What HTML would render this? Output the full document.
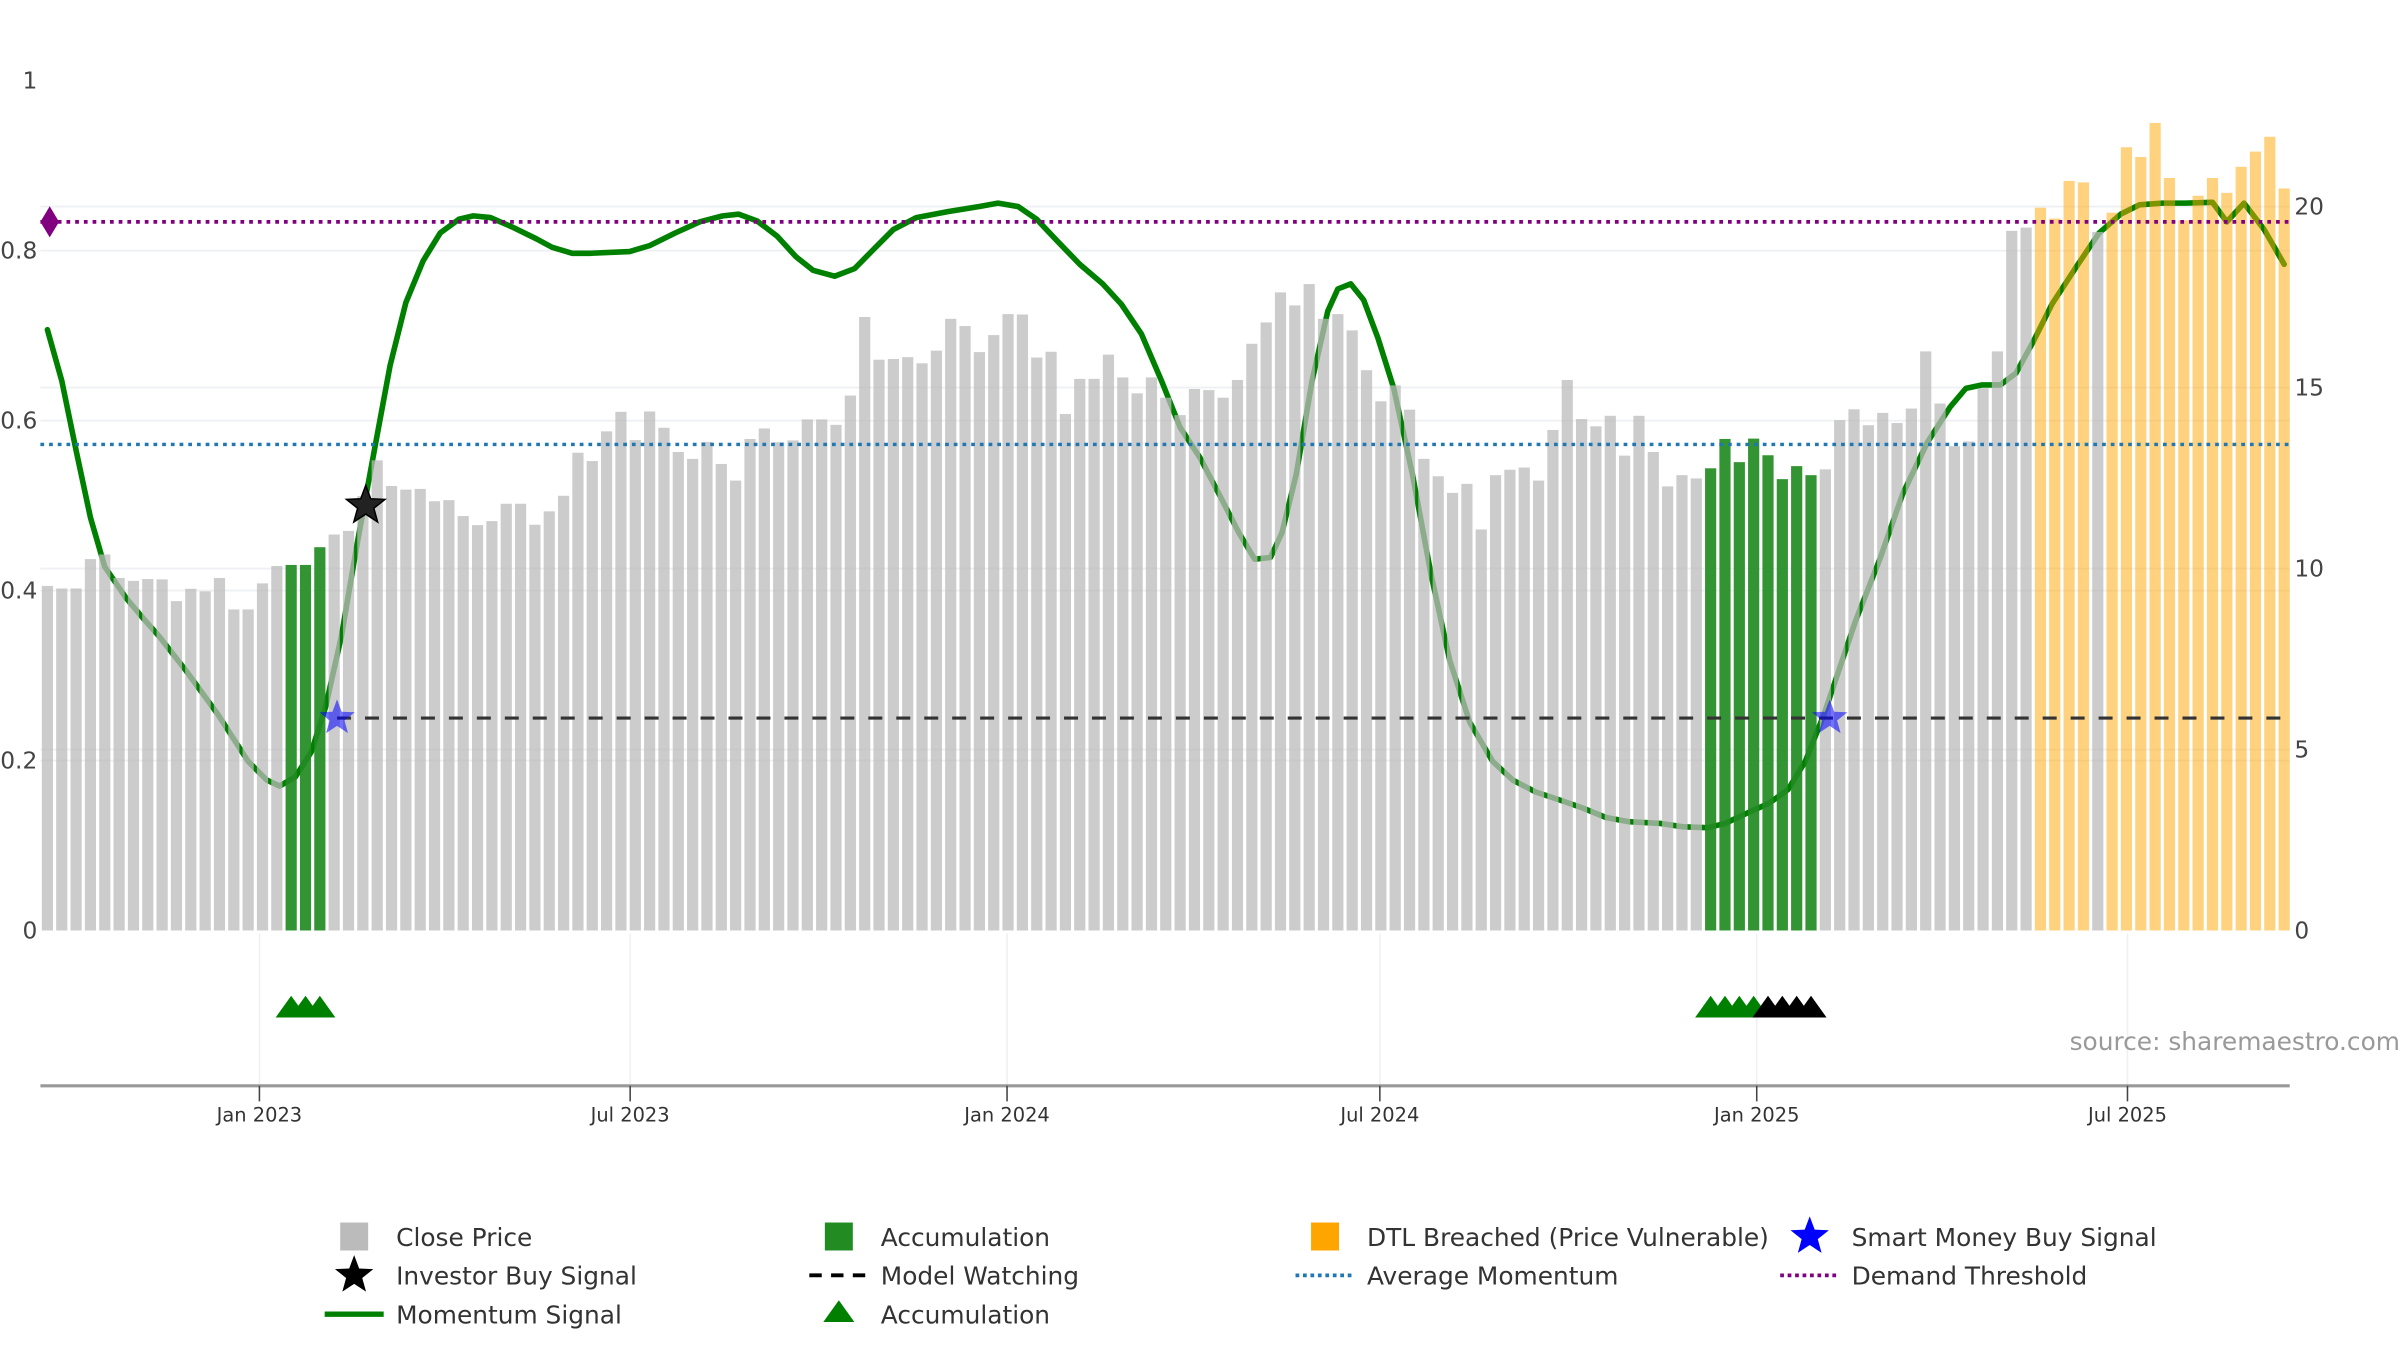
<!DOCTYPE html>
<html><head><meta charset="utf-8"><style>
html,body{margin:0;padding:0;background:#fff;}
svg{display:block;font-family:"DejaVu Sans","Liberation Sans",sans-serif;}
</style></head><body>
<svg id="chart" width="2400" height="1350" viewBox="0 0 1545 869.06" preserveAspectRatio="none" xmlns="http://www.w3.org/2000/svg">
<g id="grid"></g>
<g id="mom"></g>
<g id="bars"></g>
<g id="lines"></g>
<g id="marks"></g>
<g id="axes"></g>
<text x="1545" y="676" text-anchor="end" font-size="16" fill="#999">source: sharemaestro.com</text>
<g id="legend"></g>
</svg>
<script>
const closePrice = [9.52,9.45,9.45,10.26,10.39,9.74,9.66,9.71,9.70,9.10,9.44,9.37,9.74,8.87,8.87,9.59,10.07,10.10,10.10,10.59,10.94,11.04,12.0,12.99,12.28,12.18,12.20,11.86,11.89,11.45,11.20,11.31,11.79,11.79,11.21,11.58,12.01,13.20,12.97,13.79,14.33,13.55,
14.34,13.89,13.22,13.03,13.50,12.89,12.43,13.58,13.87,13.49,13.54,14.12,14.12,13.97,14.78,16.95,15.77,15.79,15.84,15.67,16.02,16.90,16.70,15.98,16.45,17.03,17.02,15.83,15.99,14.27,15.24,15.24,15.91,15.28,14.84,15.28,14.72,14.24,14.96,14.93,14.72,15.21,
16.21,16.80,17.63,17.27,17.86,16.90,17.03,16.58,15.48,14.62,15.06,14.39,13.03,12.55,12.09,12.34,11.08,12.58,12.73,12.79,12.43,13.83,15.21,14.13,13.93,14.22,13.12,14.22,13.22,12.27,12.58,12.49,12.77,13.58,12.94,13.59,13.13,12.47,12.83,12.58,12.74,
14.10,14.40,13.96,14.30,14.02,14.42,16.00,14.56,13.38,13.51,14.98,16.00,19.33,19.42,19.97,19.67,20.71,20.67,19.30,19.83,21.64,21.37,22.31,20.79,19.62,20.30,20.79,20.38,21.10,21.52,21.93,20.50];
const accumulationBars = [18,19,20,117,118,119,120,121,122,123,124];
const dtlBars = [140,141,142,143,145,146,147,148,149,150,151,152,153,154,155,156,157];
const momentumIdx = [1,2,3,4,5,6.5,7.7,8.8,10.7,12.9,15,16.3,17.2,18.3,19.4,20.4,21.5,22.6,23.8,24.9,26,27.2,28.4,29.7,30.7,31.9,33.4,35.1,36.2,37.6,38.9,41.6,43,44.8,46.5,48.1,49.2,50.5,51.9,53.2,54.4,55.9,57.3,58.7,60,61.6,63.8,66,67.3,68.7,70,71.4,73,74.6,75.9,77.3,78.7,80,81.4,82.7,84.1,85.2,86.3,87.1,88.1,89.2,90.3,91,91.9,92.8,93.8,94.9,96.2,97.5,98.8,100.2,101.8,103.2,104.8,106.4,108.1,109.7,111.3,113.5,115.1,116.8,118,119.4,121.1,122.4,123.6,124.9,126,127.1,128.8,130.4,132.1,133.7,134.8,135.9,137.2,138.3,139.5,140.8,142.5,144.1,145.6,146.9,148.5,150.1,152,153,154.2,155.6,157];
const momentumVal = [0.707,0.647,0.565,0.486,0.428,0.391,0.367,0.346,0.305,0.254,0.199,0.177,0.170,0.181,0.210,0.263,0.346,0.455,0.565,0.665,0.739,0.788,0.821,0.837,0.841,0.839,0.828,0.814,0.804,0.797,0.797,0.799,0.806,0.821,0.834,0.841,0.843,0.835,0.817,0.793,0.777,0.770,0.779,0.803,0.825,0.839,0.846,0.852,0.856,0.852,0.837,0.812,0.784,0.761,0.737,0.702,0.647,0.592,0.556,0.514,0.468,0.437,0.439,0.468,0.537,0.647,0.729,0.755,0.761,0.742,0.697,0.638,0.537,0.419,0.318,0.245,0.199,0.177,0.163,0.154,0.144,0.133,0.128,0.126,0.122,0.121,0.126,0.137,0.150,0.166,0.199,0.254,0.309,0.364,0.437,0.514,0.574,0.616,0.638,0.642,0.642,0.656,0.693,0.737,0.781,0.821,0.843,0.854,0.856,0.856,0.857,0.834,0.856,0.825,0.784];
const demandThreshold = 0.834;
const averageMomentum = 0.572;
const modelWatching = 0.25;
const investorBuy = [{i:23.2, v:0.5}];
const smartMoneyBuy = [{i:21.2, v:0.25},{i:125.3, v:0.25}];
const accumTriangles = [18,19,20,117,118,119,120];
const watchTriangles = [121,122,123,124];
const leftTicks = [0,0.2,0.4,0.6,0.8,1];
const leftTickLabels = ["0","0.2","0.4","0.6","0.8","1"];
const rightTicks = [0,5,10,15,20];
const xTickDays = [0,181,365,547,731,912];
const xTickLabels = ["Jan 2023","Jul 2023","Jan 2024","Jul 2024","Jan 2025","Jul 2025"];

const NS="http://www.w3.org/2000/svg";
const X0=26, X1=1474;
function xDate(d){return 167+1.3186*d;}
function xi(i){return xDate(-103.5+7*(i-1));}
function yL(v){return 599-547*v;}
function yR(v){return 599-23.3*v;}
function mk(tag,attrs,parent){const e=document.createElementNS(NS,tag);for(const k in attrs)e.setAttribute(k,attrs[k]);parent.appendChild(e);return e;}
function starPts(cx,cy,R){const r=R*0.42;let p=[];for(let k=0;k<10;k++){const a=-Math.PI/2+k*Math.PI/5;const rr=k%2?r:R;p.push((cx+rr*Math.cos(a)).toFixed(2)+','+(cy+rr*Math.sin(a)).toFixed(2));}return p.join(' ');}
const G=id=>document.getElementById(id);

// grid
const grid=G('grid');
leftTicks.forEach(t=>{if(t>0&&t<1){const l=mk('line',{x1:X0,x2:X1,y1:yL(t),y2:yL(t),stroke:'#eef0f3','stroke-width':1.2},grid);}});
rightTicks.forEach(t=>{if(t>0){const l=mk('line',{x1:X0,x2:X1,y1:yR(t),y2:yR(t),stroke:'#eef0f3','stroke-width':1.2},grid);}});
xTickDays.forEach(d=>{const l=mk('line',{x1:xDate(d),x2:xDate(d),y1:601,y2:699,stroke:'#eef0f3','stroke-width':1},grid);});

// momentum line
let dm=momentumIdx.map((i,k)=>(k?'L':'M')+xi(i).toFixed(2)+','+yL(momentumVal[k]).toFixed(2)).join(' ');
const ml=mk('path',{d:dm,fill:'none',stroke:'#008000','stroke-width':3.6,'stroke-linejoin':'round','stroke-linecap':'round'},G('mom'));



// bars
const bw=7.2;
closePrice.forEach((v,k)=>{const i=k+1;let fill='#bbbbbb',op=0.75,name='close-price-bar';
 if(accumulationBars.includes(i)){fill='#228B22';op=0.92;name='accumulation-bar';}
 else if(dtlBars.includes(i)){fill='#FFA500';op=0.5;name='dtl-breached-bar';}
 const r=mk('rect',{x:xi(i)-bw/2,y:yR(v),width:bw,height:yR(0)-yR(v),fill:fill,'fill-opacity':op},G('bars'));
 
 
});

// reference lines
const L=G('lines');
let a=mk('line',{x1:X0,x2:X1,y1:yL(demandThreshold),y2:yL(demandThreshold),stroke:'#800080','stroke-width':2.4,'stroke-dasharray':'2.4 3.2'},L);


let b=mk('line',{x1:X0,x2:X1,y1:yL(averageMomentum),y2:yL(averageMomentum),stroke:'#1f77b4','stroke-width':2.2,'stroke-dasharray':'2.4 3.2'},L);


let c=mk('line',{x1:xi(smartMoneyBuy[0].i),x2:X1,y1:yL(modelWatching),y2:yL(modelWatching),stroke:'#333','stroke-width':2,'stroke-dasharray':'9 9'},L);


const dy=yL(demandThreshold);
let dmd=mk('polygon',{points:`${X0},${dy} ${X0+6},${dy-10} ${X0+12},${dy} ${X0+6},${dy+10}`,fill:'#800080'},L);



// markers
const M=G('marks');
investorBuy.forEach(s=>{const p=mk('polygon',{points:starPts(xi(s.i),yL(s.v),13),fill:'#222',stroke:'#000','stroke-width':1},M);});
smartMoneyBuy.forEach(s=>{const p=mk('polygon',{points:starPts(xi(s.i),yL(s.v),12),fill:'#0000ff','fill-opacity':0.55},M);});
function tri(i,col,name){const x=xi(i),y=648;const p=mk('polygon',{points:`${x-10},${y+7} ${x},${y-7} ${x+10},${y+7}`,fill:col},M);}
accumTriangles.forEach(i=>tri(i,'#008000','accumulation-triangle'));
watchTriangles.forEach(i=>tri(i,'#000','watch-triangle'));

// axes
const A=G('axes');
let ax=mk('line',{x1:X0,x2:X1,y1:699,y2:699,stroke:'#999','stroke-width':2},A);


xTickDays.forEach((d,k)=>{const tk=mk('line',{x1:xDate(d),x2:xDate(d),y1:699,y2:709,stroke:'#444','stroke-width':1},A);
 const t=mk('text',{x:xDate(d),y:722,'text-anchor':'middle','font-size':12.5,fill:'#333'},A);t.textContent=xTickLabels[k];});
leftTicks.forEach((v,k)=>{const t=mk('text',{x:24,y:yL(v)+5,'text-anchor':'end','font-size':15,fill:'#444'},A);t.textContent=leftTickLabels[k];});
rightTicks.forEach(v=>{const t=mk('text',{x:1477,y:yR(v)+5,'text-anchor':'start','font-size':15,fill:'#444'},A);t.textContent=String(v);});

// legend
const LG=G('legend');
function ltext(x,y,s,name){const t=mk('text',{x:x,y:y+6,'font-size':16,fill:'#333'},LG);t.textContent=s;}
function lrect(x,y,col,op,name){const r=mk('rect',{x:x-9,y:y-9,width:18,height:18,fill:col,'fill-opacity':op},LG);}
function lline(x,y,col,w,dash,name){const l=mk('line',{x1:x-19,x2:x+19,y1:y,y2:y,stroke:col,'stroke-width':w,'stroke-dasharray':dash},LG);}
lrect(228,796,'#bbbbbb',1,'legend-close-price-swatch');ltext(255,796,'Close Price','legend-close-price');
lrect(540,796,'#228B22',1,'legend-accumulation-swatch');ltext(567,796,'Accumulation','legend-accumulation');
lrect(853,796,'#FFA500',1,'legend-dtl-swatch');ltext(880,796,'DTL Breached (Price Vulnerable)','legend-dtl-breached');
let s1=mk('polygon',{points:starPts(1165,796,13),fill:'#0000ff'},LG);
ltext(1192,796,'Smart Money Buy Signal','legend-smart-money');
let s2=mk('polygon',{points:starPts(228,821,13),fill:'#000'},LG);
ltext(255,821,'Investor Buy Signal','legend-investor-buy');
lline(540,821,'#000',2.5,'8 6','legend-model-watching-line');ltext(567,821,'Model Watching','legend-model-watching');
lline(853,821,'#1f77b4',2.4,'2.4 2.4','legend-average-line');ltext(880,821,'Average Momentum','legend-average-momentum');
lline(1165,821,'#800080',2.4,'2.4 2.4','legend-demand-line');ltext(1192,821,'Demand Threshold','legend-demand-threshold');
lline(228,846,'#008000',3.5,'none','legend-momentum-line');ltext(255,846,'Momentum Signal','legend-momentum-signal');
let t3=mk('polygon',{points:'530,851 540,837 550,851',fill:'#008000'},LG);
ltext(567,846,'Accumulation','legend-accumulation-marker');
</script>
</body></html>
